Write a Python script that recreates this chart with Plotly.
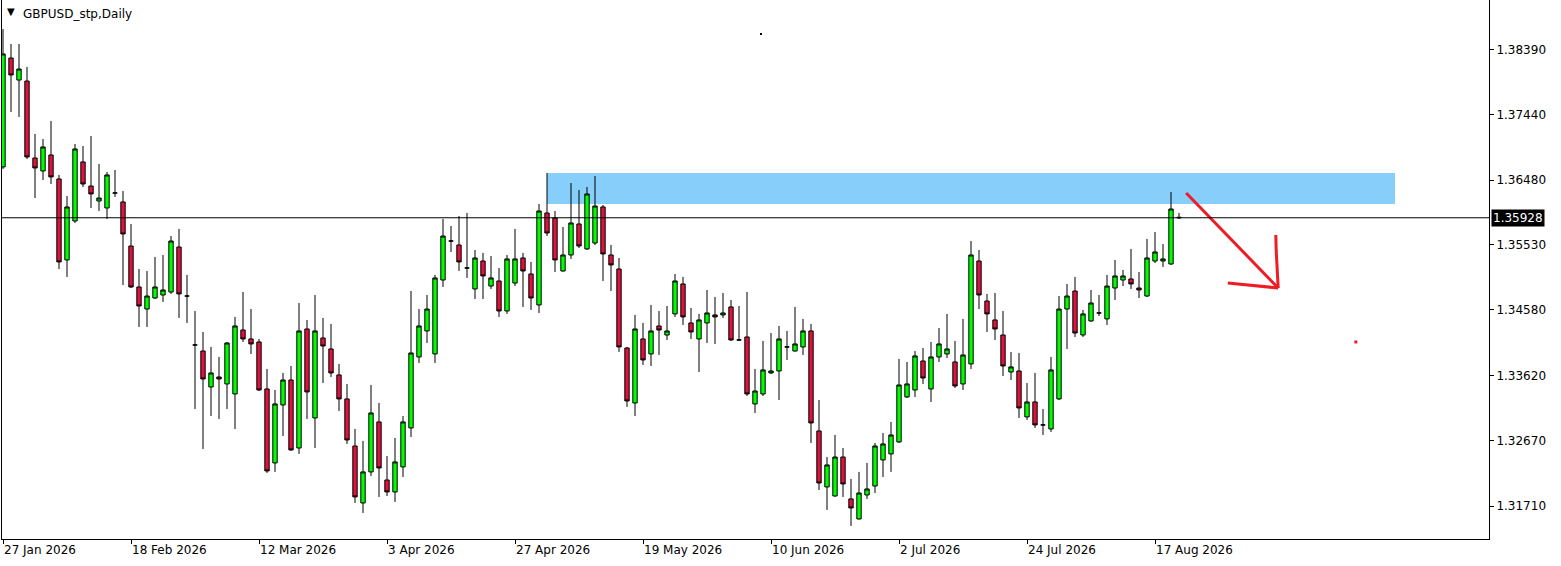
import plotly.graph_objects as go

# axis labels
tick_labels = ["27 Jan 2026", "18 Feb 2026", "12 Mar 2026", "3 Apr 2026", "27 Apr 2026",
               "19 May 2026", "10 Jun 2026", "2 Jul 2026", "24 Jul 2026", "17 Aug 2026"]
bars_per_tick = 16
price_ticks = [1.31710, 1.32670, 1.33620, 1.34580, 1.35530, 1.36480, 1.37440, 1.38390]

# daily GBPUSD candles, 27 Jan 2026 .. 20 Aug 2026
opens = [
    1.36671, 1.38264, 1.37942, 1.37927, 1.36802, 1.36612, 1.36846, 1.36495, 1.35311, 1.35881,
    1.36744, 1.36392, 1.36173, 1.36071, 1.36290, 1.36159, 1.35515, 1.34916, 1.34594, 1.34755,
    1.34799, 1.34843, 1.35500, 1.34784, 1.34068, 1.33980, 1.33454, 1.33600, 1.33498, 1.33352,
    1.34287, 1.34156, 1.34112, 1.33425, 1.32343, 1.33191, 1.33556, 1.32562, 1.34302, 1.33001,
    1.34170, 1.34010, 1.33630, 1.33279, 1.32591, 1.31758, 1.32212, 1.32943, 1.32094, 1.31919,
    1.32285, 1.32855, 1.33893, 1.34273, 1.33937, 1.35018, 1.35588, 1.35530, 1.35194, 1.34887,
    1.35296, 1.34930, 1.35004, 1.34565, 1.34974, 1.35340, 1.35106, 1.34653, 1.35998, 1.35925,
    1.35150, 1.35384, 1.35837, 1.35472, 1.35559, 1.36086, 1.35384, 1.35179, 1.34024, 1.33220,
    1.34156, 1.33937, 1.34346, 1.34214, 1.34522, 1.34960, 1.34390, 1.34156, 1.34390, 1.34507,
    1.34507, 1.34624, 1.34141, 1.34185, 1.33206, 1.33352, 1.33659, 1.33688, 1.34039, 1.33980,
    1.34039, 1.34273, 1.32811, 1.31992, 1.31860, 1.32430, 1.31817, 1.31524, 1.31875, 1.32006,
    1.32387, 1.32475, 1.32650, 1.33308, 1.33410, 1.33834, 1.33425, 1.33893, 1.33937, 1.33820,
    1.33498, 1.33791, 1.35296, 1.34711, 1.34434, 1.34214, 1.33673, 1.33688, 1.33016, 1.33235,
    1.32899, 1.32840, 1.33279, 1.34594, 1.34857, 1.34214, 1.34419, 1.34536, 1.34449, 1.34901,
    1.35018, 1.35033, 1.34901, 1.34784, 1.35296, 1.35296, 1.35252, 1.35935,
]
highs = [
    1.38688, 1.38469, 1.38469, 1.38133, 1.37153, 1.37079, 1.37343, 1.36554, 1.36246, 1.37007,
    1.36977, 1.37123, 1.36715, 1.36598, 1.36627, 1.36319, 1.35837, 1.35179, 1.35150, 1.35355,
    1.35384, 1.35661, 1.35764, 1.35092, 1.34565, 1.34258, 1.34039, 1.33893, 1.34112, 1.34478,
    1.34843, 1.34594, 1.34156, 1.33717, 1.33410, 1.33659, 1.33761, 1.34682, 1.34434, 1.34799,
    1.34463, 1.34376, 1.33791, 1.33498, 1.32840, 1.32665, 1.33483, 1.33220, 1.32445, 1.32708,
    1.33030, 1.34857, 1.34594, 1.34799, 1.35092, 1.35910, 1.35808, 1.35954, 1.35998, 1.35457,
    1.35413, 1.35369, 1.35194, 1.35384, 1.35764, 1.35413, 1.35282, 1.36129, 1.36583, 1.36027,
    1.35793, 1.36436, 1.36334, 1.36378, 1.36539, 1.36115, 1.35530, 1.35340, 1.34039, 1.34507,
    1.34390, 1.34653, 1.34565, 1.34638, 1.35106, 1.35063, 1.34609, 1.34522, 1.34872, 1.34770,
    1.34828, 1.34726, 1.34638, 1.34843, 1.33717, 1.34127, 1.34243, 1.34346, 1.34273, 1.34624,
    1.34449, 1.34376, 1.33264, 1.32430, 1.32752, 1.32562, 1.32109, 1.32212, 1.32343, 1.32635,
    1.32781, 1.32943, 1.33864, 1.33820, 1.33980, 1.34024, 1.34112, 1.34317, 1.34522, 1.34127,
    1.34449, 1.35588, 1.35457, 1.34814, 1.34828, 1.34565, 1.33966, 1.33951, 1.33512, 1.33659,
    1.33132, 1.33893, 1.34784, 1.34960, 1.35063, 1.34580, 1.34872, 1.34799, 1.35092, 1.35311,
    1.35165, 1.35472, 1.35135, 1.35618, 1.35720, 1.35544, 1.36305, 1.35998,
]
lows = [
    1.36641, 1.37475, 1.37402, 1.36787, 1.36217, 1.36480, 1.36422, 1.35179, 1.35063, 1.35852,
    1.36378, 1.36071, 1.36027, 1.35910, 1.36232, 1.34945, 1.34901, 1.34331, 1.34331, 1.34740,
    1.34697, 1.34814, 1.34463, 1.34390, 1.33132, 1.32547, 1.33030, 1.32986, 1.33132, 1.32840,
    1.34112, 1.33937, 1.33395, 1.32197, 1.32212, 1.32737, 1.32520, 1.32475, 1.32986, 1.32562,
    1.33512, 1.33600, 1.33103, 1.32621, 1.31758, 1.31612, 1.32153, 1.31846, 1.31860, 1.31773,
    1.32138, 1.32723, 1.33805, 1.34097, 1.33805, 1.34916, 1.35428, 1.35150, 1.35048, 1.34740,
    1.34740, 1.34887, 1.34478, 1.34522, 1.34930, 1.34624, 1.34580, 1.34536, 1.35661, 1.35135,
    1.35140, 1.35326, 1.35486, 1.35457, 1.35530, 1.35004, 1.34857, 1.33966, 1.33162, 1.33030,
    1.33776, 1.33761, 1.33922, 1.34141, 1.34478, 1.34361, 1.34156, 1.33673, 1.34097, 1.34083,
    1.34463, 1.34127, 1.34127, 1.33322, 1.33074, 1.33322, 1.33644, 1.33264, 1.33849, 1.33970,
    1.33922, 1.32635, 1.31948, 1.31656, 1.31850, 1.31846, 1.31422, 1.31515, 1.31817, 1.31904,
    1.32138, 1.32212, 1.32635, 1.33293, 1.33308, 1.33498, 1.33235, 1.33820, 1.33878, 1.33439,
    1.33410, 1.33717, 1.34594, 1.34258, 1.34141, 1.33615, 1.33556, 1.33001, 1.32972, 1.32855,
    1.32752, 1.32796, 1.33264, 1.34010, 1.34185, 1.34185, 1.34405, 1.34492, 1.34361, 1.34726,
    1.34930, 1.34887, 1.34755, 1.34770, 1.35267, 1.35209, 1.35238, 1.35910,
]
closes = [
    1.38323, 1.38016, 1.38103, 1.36817, 1.36656, 1.36963, 1.36525, 1.35282, 1.36086, 1.36934,
    1.36422, 1.36276, 1.36217, 1.36554, 1.36290, 1.35691, 1.34916, 1.34638, 1.34784, 1.34916,
    1.34872, 1.35588, 1.34814, 1.34784, 1.34068, 1.33571, 1.33659, 1.33571, 1.34097, 1.34346,
    1.34156, 1.34083, 1.33410, 1.32226, 1.33206, 1.33556, 1.32533, 1.34273, 1.33381, 1.34273,
    1.34053, 1.33659, 1.33279, 1.32679, 1.31846, 1.32212, 1.33074, 1.32270, 1.31919, 1.32358,
    1.32943, 1.33951, 1.34346, 1.34594, 1.35048, 1.35661, 1.35588, 1.35282, 1.35194, 1.35340,
    1.35077, 1.35048, 1.34565, 1.35326, 1.35326, 1.35150, 1.34755, 1.36027, 1.35705, 1.35311,
    1.35384, 1.35852, 1.35515, 1.36276, 1.36100, 1.35399, 1.35238, 1.34039, 1.33249, 1.34302,
    1.33849, 1.34273, 1.34287, 1.34273, 1.35004, 1.34478, 1.34258, 1.34434, 1.34536, 1.34478,
    1.34536, 1.34141, 1.34141, 1.33352, 1.33395, 1.33703, 1.33688, 1.34156, 1.34039, 1.34083,
    1.34273, 1.32928, 1.32050, 1.32314, 1.32430, 1.32036, 1.31685, 1.31904, 1.31963, 1.32591,
    1.32621, 1.32752, 1.33483, 1.33498, 1.33908, 1.33585, 1.33893, 1.34083, 1.34010, 1.33469,
    1.33922, 1.35384, 1.34799, 1.34522, 1.34302, 1.33761, 1.33747, 1.33147, 1.33235, 1.32899,
    1.32899, 1.33703, 1.34594, 1.34784, 1.34243, 1.34522, 1.34682, 1.34536, 1.34930, 1.35077,
    1.35077, 1.34960, 1.34872, 1.35340, 1.35428, 1.35326, 1.36056, 1.35928,
]

last_price = 1.35928

# drawn objects (bar index, price)
zone_bars = [68, 174]
zone_prices = [1.36129, 1.36583]
arrow_strokes = [
    ([147.9, 159.4], [1.36290, 1.34901]),
    ([159.1, 159.15, 159.4], [1.35676, 1.35450, 1.34901]),
    ([153.1, 159.4], [1.34975, 1.34901]),
]
red_dot = (169.1, 1.34112)
black_dot = (94.75, 1.38615)

font = "DejaVu Sans"
red = "#EE1C25"

fig = go.Figure()

fig.add_shape(type="rect", x0=zone_bars[0], x1=zone_bars[1],
              y0=zone_prices[0], y1=zone_prices[1],
              fillcolor="#87CEFA", line_width=0, layer="below")

fig.add_trace(go.Candlestick(
    x=list(range(len(opens))), open=opens, high=highs, low=lows, close=closes,
    increasing=dict(line=dict(color="black", width=1), fillcolor="#00FF00"),
    decreasing=dict(line=dict(color="black", width=1), fillcolor="#DC143C"),
    whiskerwidth=0, showlegend=False, hoverinfo="x+y",
))

# current price line
fig.add_shape(type="line", xref="paper", x0=0, x1=1, y0=last_price, y1=last_price,
              line=dict(color="black", width=1))

for xs, ys in arrow_strokes:
    fig.add_trace(go.Scatter(x=xs, y=ys, mode="lines", line=dict(color=red, width=3),
                             showlegend=False, hoverinfo="skip"))

fig.add_trace(go.Scatter(x=[red_dot[0]], y=[red_dot[1]], mode="markers",
                         marker=dict(color=red, size=3, symbol="square"),
                         showlegend=False, hoverinfo="skip"))
fig.add_trace(go.Scatter(x=[black_dot[0]], y=[black_dot[1]], mode="markers",
                         marker=dict(color="black", size=2, symbol="square"),
                         showlegend=False, hoverinfo="skip"))

fig.add_annotation(xref="paper", yref="y", x=1, y=last_price, xanchor="left", xshift=2,
                   text=f"{last_price:.5f}", showarrow=False, bgcolor="black",
                   font=dict(family=font, size=12, color="white"), borderpad=1)

# chart caption: small triangle then symbol/timeframe
fig.add_annotation(xref="paper", yref="paper", x=0, y=1, xanchor="left", yanchor="top",
                   xshift=3, yshift=-4, text="▼", showarrow=False,
                   font=dict(family=font, size=10, color="black"))
fig.add_annotation(xref="paper", yref="paper", x=0, y=1, xanchor="left", yanchor="top",
                   xshift=19, yshift=-5, text="GBPUSD_stp,Daily", showarrow=False,
                   font=dict(family=font, size=12, color="black"))

fig.update_layout(
    width=1561, height=566,
    margin=dict(l=2, r=72, t=0, b=27),
    paper_bgcolor="white", plot_bgcolor="white",
    showlegend=False,
    boxgap=0.22,
    font=dict(family=font, size=12, color="black"),
)
fig.update_xaxes(
    range=[-0.125, 185.75], rangeslider_visible=False,
    showgrid=False, zeroline=False, showline=True, linecolor="black", linewidth=1, mirror=True,
    tickmode="array", tickvals=[i * bars_per_tick for i in range(len(tick_labels))],
    ticktext=tick_labels, ticks="outside", ticklen=4, tickcolor="black",
    ticklabelposition="outside right", tickfont=dict(family=font, size=12),
)
fig.update_yaxes(
    side="right", range=[1.31231, 1.39112],
    showgrid=False, zeroline=False, showline=True, linecolor="black", linewidth=1, mirror=True,
    tickmode="array", tickvals=price_ticks, ticktext=[f"{p:.5f}" for p in price_ticks],
    ticks="outside", ticklen=4, tickcolor="black", tickfont=dict(family=font, size=12),
)

# page body margin would push the figure 8px down/right
fig.write_html("out.html", config={"displayModeBar": False},
               post_script="document.body.style.margin = '0px';")
